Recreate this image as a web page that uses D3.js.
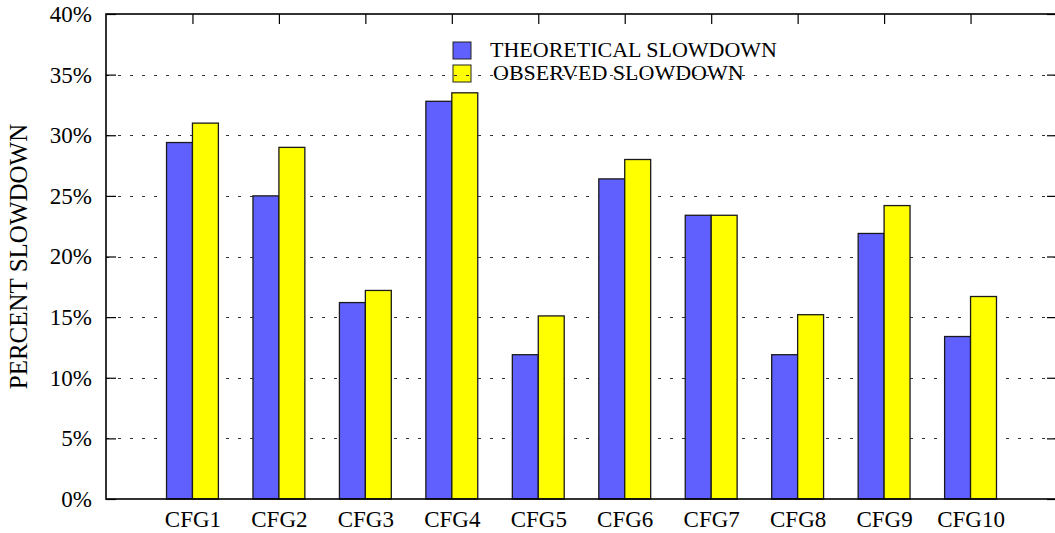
<!DOCTYPE html>
<html>
<head>
<meta charset="utf-8">
<script src="https://cdn.jsdelivr.net/npm/d3@7"></script>
<style>
  html, body { margin: 0; padding: 0; background: #fff; }
  svg { display: block; }
  text { font-family: "Liberation Serif", "Times New Roman", serif; fill: #000; }
</style>
</head>
<body>
<svg id="chart" width="1055" height="533"></svg>
<script>
// Configurations and measured slowdowns (percent)
const categories = ["CFG1", "CFG2", "CFG3", "CFG4", "CFG5", "CFG6", "CFG7", "CFG8", "CFG9", "CFG10"];
const theoretical = [29.4, 25.0, 16.2, 32.8, 11.9, 26.4, 23.4, 11.9, 21.9, 13.4];
const observed = [31.0, 29.0, 17.2, 33.5, 15.1, 28.0, 23.4, 15.2, 24.2, 16.7];
const yTicks = [0, 5, 10, 15, 20, 25, 30, 35, 40];
const seriesNames = ["THEORETICAL SLOWDOWN", "OBSERVED SLOWDOWN"];
const seriesColors = ["#6060ff", "#ffff00"];

const svg = d3.select("#chart");
const plotL = 106, plotR = 1057, plotT = 14, plotB = 499;

// Categories sit at 1..10 on a 0..11 axis
const x = d3.scaleLinear().domain([0, categories.length + 1]).range([plotL, plotR]);
const y = d3.scaleLinear().domain([0, 40]).range([plotB, plotT]);
const barW = x(0.3) - x(0);

// Legend (drawn first so grid dashes run over it)
const legend = svg.append("g");
seriesNames.forEach((name, i) => {
  const ly = 42 + i * 23;
  legend.append("rect")
    .attr("x", 453).attr("y", ly).attr("width", 18).attr("height", 17)
    .attr("fill", seriesColors[i]).attr("stroke", "#222").attr("stroke-width", 1);
  legend.append("text")
    .attr("x", i === 0 ? 490 : 493).attr("y", ly + 14.5)
    .attr("font-size", 22).text(name);
});

// Dotted horizontal grid
svg.append("g").selectAll("line").data(yTicks.slice(1, -1)).join("line")
  .attr("x1", plotL).attr("x2", plotR)
  .attr("y1", d => Math.round(y(d)) + 0.5).attr("y2", d => Math.round(y(d)) + 0.5)
  .attr("stroke", "#333").attr("stroke-width", 1.2).attr("stroke-dasharray", "3,9");

// Bars
const bars = svg.append("g");
categories.forEach((c, i) => {
  const cx = x(i + 1);
  bars.append("rect")
    .attr("x", cx - barW).attr("y", y(theoretical[i]))
    .attr("width", barW).attr("height", y(0) - y(theoretical[i]))
    .attr("fill", seriesColors[0]).attr("stroke", "#1a1a1a").attr("stroke-width", 1.3);
  bars.append("rect")
    .attr("x", cx).attr("y", y(observed[i]))
    .attr("width", barW).attr("height", y(0) - y(observed[i]))
    .attr("fill", seriesColors[1]).attr("stroke", "#1a1a1a").attr("stroke-width", 1.3);
});

// Frame
svg.append("rect")
  .attr("x", plotL).attr("y", plotT).attr("width", plotR - plotL).attr("height", plotB - plotT)
  .attr("fill", "none").attr("stroke", "#000").attr("stroke-width", 1.6);

// Y axis (ticks inward, mirrored on the right)
const yAxis = d3.axisLeft(y).tickValues(yTicks).tickSize(-10).tickPadding(14)
  .tickFormat(d => d + "%");
const gy = svg.append("g").attr("transform", `translate(${plotL},0)`).call(yAxis);
gy.select(".domain").remove();
gy.selectAll(".tick line").attr("stroke", "#000").attr("stroke-width", 1.2);
gy.selectAll(".tick text").attr("font-size", 23)
  .attr("font-family", "Liberation Serif, serif").attr("fill", "#000");

const gyr = svg.append("g").attr("transform", `translate(${plotR},0)`)
  .call(d3.axisRight(y).tickValues(yTicks).tickSize(-10).tickFormat(""));
gyr.select(".domain").remove();
gyr.selectAll(".tick line").attr("stroke", "#000").attr("stroke-width", 1.2);

// X axis labels and mirrored top ticks
const xAxis = d3.axisBottom(x).tickValues(d3.range(1, categories.length + 1))
  .tickSize(0).tickPadding(12).tickFormat(d => categories[d - 1]);
const gx = svg.append("g").attr("transform", `translate(0,${plotB})`).call(xAxis);
gx.select(".domain").remove();
gx.selectAll(".tick text").attr("font-size", 23)
  .attr("font-family", "Liberation Serif, serif").attr("fill", "#000");

const gxt = svg.append("g").attr("transform", `translate(0,${plotT})`)
  .call(d3.axisTop(x).tickValues(d3.range(1, categories.length + 1)).tickSize(-10).tickFormat(""));
gxt.select(".domain").remove();
gxt.selectAll(".tick line").attr("stroke", "#000").attr("stroke-width", 1.2);

// Y axis title
svg.append("text")
  .attr("transform", `translate(27,${(plotT + plotB) / 2}) rotate(-90)`)
  .attr("text-anchor", "middle").attr("font-size", 25)
  .text("PERCENT SLOWDOWN");
</script>
</body>
</html>
